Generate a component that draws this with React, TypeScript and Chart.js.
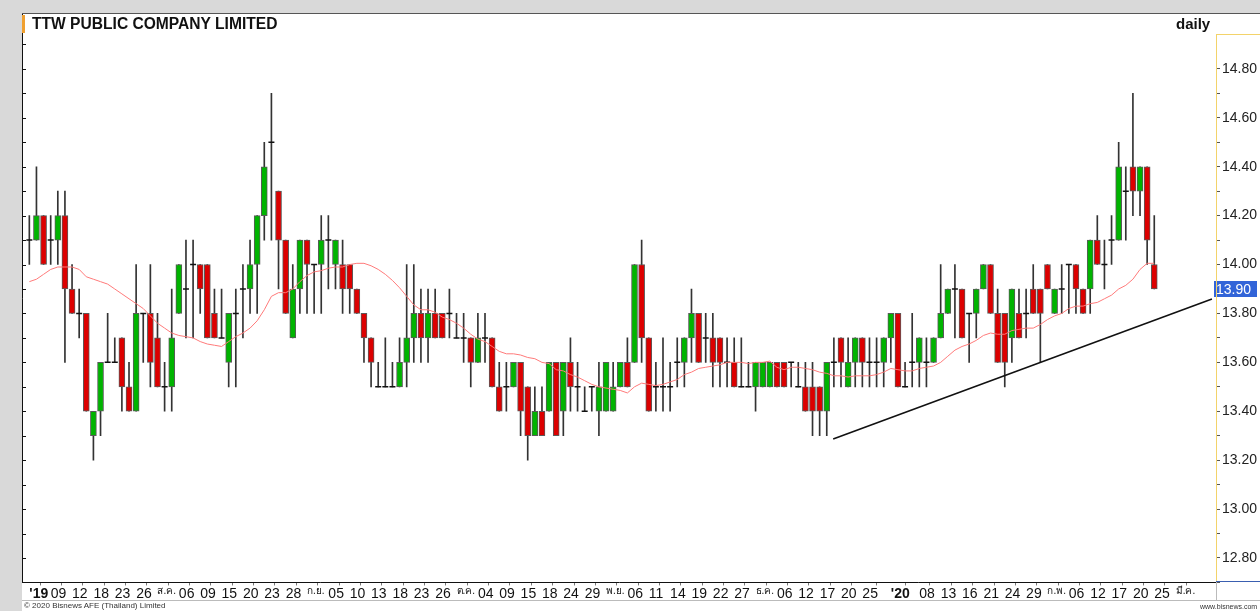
import React, { useEffect, useRef } from "react";
import { Chart, registerables } from "chart.js";

Chart.register(...registerables);

// ---- data ----
const opens = [
  14.1, 14.1, 14.2, 14.1, 14.1, 14.2, 13.9, 13.8, 13.8, 13.3,
  13.4, 13.6, 13.6, 13.7, 13.5, 13.4, 13.8, 13.8, 13.7, 13.5,
  13.5, 13.8, 13.9, 14.0, 14.0, 14.0, 13.8, 13.7, 13.6, 13.8,
  13.9, 13.9, 14.0, 14.2, 14.5, 14.3, 14.1, 13.7, 13.9, 14.1,
  14.0, 14.0, 14.1, 14.0, 14.0, 14.0, 13.9, 13.8, 13.7, 13.5,
  13.5, 13.5, 13.5, 13.6, 13.7, 13.8, 13.7, 13.8, 13.8, 13.8,
  13.7, 13.7, 13.7, 13.6, 13.7, 13.7, 13.5, 13.5, 13.5, 13.6,
  13.5, 13.3, 13.4, 13.4, 13.6, 13.4, 13.6, 13.5, 13.4, 13.5,
  13.4, 13.4, 13.4, 13.5, 13.6, 13.6, 14.0, 13.7, 13.5, 13.5,
  13.5, 13.6, 13.6, 13.7, 13.8, 13.7, 13.7, 13.7, 13.6, 13.6,
  13.5, 13.5, 13.5, 13.5, 13.5, 13.6, 13.6, 13.6, 13.5, 13.5,
  13.5, 13.5, 13.4, 13.6, 13.7, 13.5, 13.6, 13.7, 13.6, 13.6,
  13.6, 13.7, 13.8, 13.5, 13.6, 13.6, 13.6, 13.6, 13.7, 13.8,
  13.9, 13.9, 13.8, 13.8, 13.9, 14.0, 13.8, 13.8, 13.7, 13.8,
  13.8, 13.9, 13.9, 14.0, 13.8, 13.9, 14.0, 14.0, 13.9, 13.9,
  14.1, 14.0, 14.1, 14.1, 14.3, 14.4, 14.3, 14.4, 14.0,
];
const highs = [
  14.2, 14.4, 14.2, 14.2, 14.3, 14.3, 14.0, 13.9, 13.8, 13.4,
  13.6, 13.8, 13.7, 13.7, 13.6, 14.0, 13.8, 14.0, 13.8, 13.6,
  13.9, 14.0, 14.1, 14.1, 14.0, 14.0, 13.9, 13.9, 13.8, 13.9,
  14.0, 14.1, 14.2, 14.5, 14.7, 14.3, 14.1, 14.0, 14.1, 14.1,
  14.0, 14.2, 14.2, 14.1, 14.1, 14.0, 13.9, 13.8, 13.7, 13.6,
  13.7, 13.6, 13.7, 14.0, 14.0, 13.9, 13.9, 13.9, 13.8, 13.9,
  13.8, 13.8, 13.7, 13.8, 13.8, 13.7, 13.6, 13.6, 13.6, 13.6,
  13.5, 13.5, 13.5, 13.6, 13.6, 13.6, 13.7, 13.6, 13.5, 13.5,
  13.6, 13.6, 13.6, 13.6, 13.7, 14.0, 14.1, 13.7, 13.6, 13.7,
  13.6, 13.7, 13.7, 13.9, 13.8, 13.8, 13.8, 13.7, 13.7, 13.7,
  13.7, 13.6, 13.6, 13.6, 13.6, 13.6, 13.6, 13.6, 13.6, 13.6,
  13.6, 13.5, 13.6, 13.7, 13.7, 13.7, 13.7, 13.7, 13.7, 13.7,
  13.7, 13.8, 13.8, 13.6, 13.8, 13.7, 13.7, 13.7, 14.0, 13.9,
  14.0, 13.9, 13.8, 13.9, 14.0, 14.0, 13.9, 13.8, 13.9, 13.9,
  13.9, 14.0, 13.9, 14.0, 13.9, 14.0, 14.0, 14.0, 13.9, 14.1,
  14.2, 14.1, 14.2, 14.5, 14.4, 14.7, 14.4, 14.4, 14.2,
];
const lows = [
  14.0, 14.1, 14.0, 14.0, 14.0, 13.6, 13.8, 13.7, 13.4, 13.2,
  13.3, 13.6, 13.6, 13.4, 13.4, 13.4, 13.6, 13.5, 13.5, 13.4,
  13.4, 13.8, 13.7, 13.7, 13.8, 13.7, 13.7, 13.7, 13.5, 13.5,
  13.7, 13.8, 13.8, 14.1, 14.1, 13.9, 13.8, 13.7, 13.8, 13.8,
  13.8, 13.8, 13.9, 13.9, 13.8, 13.8, 13.8, 13.6, 13.5, 13.5,
  13.5, 13.5, 13.5, 13.5, 13.6, 13.6, 13.6, 13.7, 13.7, 13.7,
  13.7, 13.6, 13.5, 13.6, 13.6, 13.5, 13.4, 13.4, 13.5, 13.3,
  13.2, 13.3, 13.3, 13.4, 13.3, 13.3, 13.4, 13.4, 13.4, 13.4,
  13.3, 13.4, 13.4, 13.5, 13.5, 13.6, 13.6, 13.4, 13.4, 13.4,
  13.4, 13.5, 13.5, 13.6, 13.6, 13.6, 13.5, 13.5, 13.5, 13.5,
  13.5, 13.5, 13.4, 13.5, 13.5, 13.5, 13.5, 13.5, 13.5, 13.4,
  13.3, 13.3, 13.3, 13.5, 13.5, 13.5, 13.5, 13.5, 13.5, 13.5,
  13.5, 13.6, 13.5, 13.5, 13.5, 13.5, 13.5, 13.6, 13.7, 13.8,
  13.7, 13.7, 13.6, 13.7, 13.9, 13.8, 13.6, 13.5, 13.6, 13.7,
  13.7, 13.8, 13.6, 13.9, 13.8, 13.8, 13.8, 13.8, 13.8, 13.8,
  14.0, 13.9, 14.0, 14.1, 14.1, 14.2, 14.2, 14.0, 13.9,
];
const closes = [
  14.1, 14.2, 14.0, 14.1, 14.2, 13.9, 13.8, 13.8, 13.4, 13.4,
  13.6, 13.6, 13.6, 13.5, 13.4, 13.8, 13.8, 13.6, 13.5, 13.5,
  13.7, 14.0, 13.9, 14.0, 13.9, 13.7, 13.7, 13.7, 13.8, 13.8,
  13.9, 14.0, 14.2, 14.4, 14.5, 14.1, 13.8, 13.9, 14.1, 14.0,
  14.0, 14.1, 14.1, 14.1, 13.9, 13.9, 13.8, 13.7, 13.6, 13.5,
  13.5, 13.5, 13.6, 13.7, 13.8, 13.7, 13.8, 13.7, 13.7, 13.8,
  13.7, 13.7, 13.6, 13.7, 13.7, 13.5, 13.4, 13.5, 13.6, 13.4,
  13.3, 13.4, 13.3, 13.6, 13.3, 13.6, 13.5, 13.5, 13.4, 13.5,
  13.5, 13.6, 13.5, 13.6, 13.5, 14.0, 13.7, 13.4, 13.5, 13.5,
  13.5, 13.6, 13.7, 13.8, 13.6, 13.7, 13.6, 13.6, 13.6, 13.5,
  13.5, 13.5, 13.6, 13.6, 13.6, 13.5, 13.5, 13.6, 13.5, 13.4,
  13.4, 13.4, 13.6, 13.6, 13.6, 13.6, 13.7, 13.6, 13.6, 13.6,
  13.7, 13.8, 13.5, 13.5, 13.6, 13.7, 13.6, 13.7, 13.8, 13.9,
  13.9, 13.7, 13.8, 13.9, 14.0, 13.8, 13.6, 13.6, 13.9, 13.7,
  13.8, 13.8, 13.8, 13.9, 13.9, 13.9, 14.0, 13.9, 13.8, 14.1,
  14.0, 14.0, 14.1, 14.4, 14.3, 14.3, 14.4, 14.1, 13.9,
];
// MA(20) values read at the first candles (earlier closes are off-chart)
const maLead = [
  13.93, 13.94, 13.96, 13.98, 13.99, 13.99, 13.99, 13.98, 13.95, 13.94,
  13.93, 13.92, 13.9, 13.88, 13.86, 13.84, 13.82, 13.79, 13.76,
];
const maPeriod = 20;

// date axis: candle index -> label
const xTickIdx = [
  0, 3, 6, 9, 12, 15, 18, 21, 24, 27, 30, 33, 36, 39, 42, 45, 48, 51, 54, 57,
  60, 63, 66, 69, 72, 75, 78, 81, 84, 87, 90, 93, 96, 99, 102, 105, 108, 111,
  114, 117, 121, 125, 128, 131, 134, 137, 140, 143, 146, 149, 152, 155, 158, 161,
];
const xTickLabels = [
  "'19", "09", "12", "18", "23", "26", "ส.ค.", "06", "09", "15", "20", "23", "28",
  "ก.ย.", "05", "10", "13", "18", "23", "26", "ต.ค.", "04", "09", "15", "18", "24",
  "29", "พ.ย.", "06", "11", "14", "19", "22", "27", "ธ.ค.", "06", "12", "17", "20",
  "25", "'20", "08", "13", "16", "21", "24", "29", "ก.พ.", "06", "12", "17", "20",
  "25", "มี.ค.",
];
// support trend line (candle index, price)
const trendX = [112.9, 166.1];
const trendY = [13.287, 13.859];

const yMin = 12.7;
const yMax = 15.0;
const xMin = -1.03;
const xMax = 166.67;

const FONT = "'Liberation Sans', Arial, sans-serif";
const NARROW = "'Liberation Sans Narrow', 'Arial Narrow'";

function hasFont(name: string): boolean {
  const c = document.createElement("canvas").getContext("2d");
  if (!c) return false;
  c.font = "40px monospace";
  const a = c.measureText("0123456789 abcdef").width;
  c.font = `40px ${name}, monospace`;
  const b = c.measureText("0123456789 abcdef").width;
  return Math.abs(a - b) > 1;
}

export default function App() {
  const ref = useRef<HTMLCanvasElement | null>(null);

  useEffect(() => {
    const canvas = ref.current;
    if (!canvas) return;
    const narrow = hasFont(NARROW);
    const xFamily = narrow ? NARROW + ", " + FONT : FONT;
    const xSize = narrow ? 15 : 14;

    const idx = closes.map((_, i) => i);
    const wicks = idx.map((i) => ({ x: i, y: [lows[i], highs[i]] }));
    const up = idx.filter((i) => closes[i] > opens[i]).map((i) => ({ x: i, y: [opens[i], closes[i]] }));
    const down = idx.filter((i) => closes[i] < opens[i]).map((i) => ({ x: i, y: [closes[i], opens[i]] }));
    const doji = idx.filter((i) => closes[i] === opens[i]).map((i) => ({ x: i, y: closes[i] }));
    const ma = idx.map((i) => {
      if (i < maLead.length) return { x: i, y: maLead[i] };
      let s = 0;
      for (let k = i - maPeriod + 1; k <= i; k++) s += closes[k];
      return { x: i, y: s / maPeriod };
    });
    const trend = trendX.map((x, k) => ({ x, y: trendY[k] }));

    const framePlugin = {
      id: "frame",
      afterDraw(chart: any) {
        const { ctx, chartArea, scales } = chart;
        const y = scales.y;
        ctx.save();
        ctx.strokeStyle = "#111";
        ctx.lineWidth = 1;
        ctx.beginPath();
        ctx.moveTo(22.5, 14);
        ctx.lineTo(22.5, chartArea.bottom);
        for (let k = Math.ceil(yMin * 10); k <= Math.floor(yMax * 10); k++) {
          const py = Math.round(y.getPixelForValue(k / 10)) + 0.5;
          if (py < 36) continue;
          ctx.moveTo(22, py);
          ctx.lineTo(26, py);
        }
        ctx.stroke();
        const last = closes[closes.length - 1];
        const py = Math.round(y.getPixelForValue(last));
        ctx.fillStyle = "#3264d8";
        ctx.fillRect(1214, py - 8, 43, 16);
        ctx.fillStyle = "#ffffff";
        ctx.font = "14px " + FONT;
        ctx.textBaseline = "middle";
        ctx.textAlign = "left";
        ctx.fillText(last.toFixed(2), 1216, py + 1);
        ctx.restore();
      },
    };

    const chart = new Chart(canvas, {
      type: "bar",
      data: {
        datasets: [
          {
            type: "line",
            data: trend,
            borderColor: "#111111",
            borderWidth: 1.6,
            pointRadius: 0,
            order: 0,
          } as any,
          {
            type: "line",
            data: ma,
            borderColor: "#ff7a7a",
            borderWidth: 1,
            pointRadius: 0,
            tension: 0,
            order: 1,
          } as any,
          {
            type: "scatter",
            data: doji,
            pointStyle: "line",
            radius: 3,
            borderColor: "#111111",
            borderWidth: 1.5,
            order: 2,
          } as any,
          {
            type: "bar",
            data: up,
            backgroundColor: "#00b400",
            borderColor: "#5a5a5a",
            borderWidth: 1,
            borderSkipped: false,
            barThickness: 6,
            grouped: false,
            order: 3,
          } as any,
          {
            type: "bar",
            data: down,
            backgroundColor: "#dc0000",
            borderColor: "#5a5a5a",
            borderWidth: 1,
            borderSkipped: false,
            barThickness: 6,
            grouped: false,
            order: 3,
          } as any,
          {
            type: "bar",
            data: wicks,
            backgroundColor: "#333333",
            borderWidth: 0,
            barThickness: 1,
            grouped: false,
            order: 4,
          } as any,
        ],
      },
      options: {
        responsive: false,
        animation: false,
        devicePixelRatio: 1,
        layout: { padding: { left: 22, top: 20, right: 0, bottom: 0 } },
        plugins: { legend: { display: false }, tooltip: { enabled: false }, title: { display: false } },
        events: [],
        scales: {
          x: {
            type: "linear",
            min: xMin,
            max: xMax,
            offset: false,
            afterBuildTicks: (scale: any) => {
              scale.ticks = xTickIdx.map((v) => ({ value: v }));
            },
            afterFit: (scale: any) => {
              scale.height = 611 - 582.45;
              scale.paddingLeft = 0;
              scale.paddingRight = 0;
            },
            grid: { drawOnChartArea: false, drawTicks: true, tickLength: 3, color: "#777" },
            border: { display: true, color: "#111", width: 1 },
            ticks: {
              autoSkip: false,
              maxRotation: 0,
              minRotation: 0,
              align: "start",
              padding: 0,
              color: "#111",
              callback: (_v: any, i: number) => xTickLabels[i],
              font: (c: any) => {
                const lab = xTickLabels[c.index] || "";
                if (lab.startsWith("'")) return { family: xFamily, size: xSize, weight: "bold" };
                if (/[\u0E00-\u0E7F]/.test(lab)) return { family: FONT, size: 10 };
                return { family: xFamily, size: xSize };
              },
            },
          },
          y: {
            type: "linear",
            position: "right",
            min: yMin,
            max: yMax,
            beginAtZero: false,
            afterFit: (scale: any) => {
              scale.width = 44;
            },
            grid: {
              drawOnChartArea: false,
              drawTicks: true,
              tickLength: 4,
              color: (c: any) => (c.tick && c.tick.value > 14.85 ? "rgba(0,0,0,0)" : "#555"),
            },
            border: { display: false },
            ticks: {
              stepSize: 0.1,
              autoSkip: false,
              padding: 2,
              color: "#222",
              font: { family: FONT, size: 14 },
              callback: (v: any) => {
                const k = Math.round(Number(v) * 10);
                if (k % 2 !== 0 || k < 128 || k > 148) return "";
                return (k / 10).toFixed(2);
              },
            },
          },
        },
      } as any,
      plugins: [framePlugin],
    });
    return () => chart.destroy();
  }, []);

  return (
    <div
      style={{
        position: "fixed",
        left: 0,
        top: 0,
        width: 1260,
        height: 611,
        background: "#ffffff",
        overflow: "hidden",
        fontFamily: FONT,
      }}
    >
      <div style={{ position: "absolute", left: 0, top: 0, width: 1260, height: 14, background: "#d9d9d9" }} />
      <div style={{ position: "absolute", left: 22, top: 13, width: 1238, height: 1, background: "#555" }} />
      <div style={{ position: "absolute", left: 0, top: 0, width: 22, height: 611, background: "#d9d9d9" }} />
      <canvas ref={ref} width={1260} height={611} style={{ position: "absolute", left: 0, top: 0 }} />
      <div style={{ position: "absolute", left: 22, top: 15, width: 3, height: 18, background: "#f0a030" }} />
      <div
        style={{
          position: "absolute",
          left: 32,
          top: 15,
          fontSize: 15.6,
          fontWeight: "bold",
          color: "#111",
          lineHeight: "18px",
          whiteSpace: "nowrap",
        }}
      >
        TTW PUBLIC COMPANY LIMITED
      </div>
      <div
        style={{
          position: "absolute",
          left: 1176,
          top: 15,
          fontSize: 15,
          fontWeight: "bold",
          color: "#111",
          lineHeight: "18px",
        }}
      >
        daily
      </div>
      <div style={{ position: "absolute", left: 1216, top: 34, width: 44, height: 1, background: "#f3d36a" }} />
      <div style={{ position: "absolute", left: 1216, top: 34, width: 1, height: 548, background: "#f3d36a" }} />
      <div style={{ position: "absolute", left: 1216, top: 581, width: 44, height: 1, background: "#3a5fb0" }} />
      <div style={{ position: "absolute", left: 22, top: 600, width: 1238, height: 1, background: "#bbbbbb" }} />
      <div style={{ position: "absolute", left: 1216, top: 582, width: 1, height: 18, background: "#bbbbbb" }} />
      <div
        style={{ position: "absolute", left: 24, top: 601, fontSize: 8, color: "#333", lineHeight: "10px", whiteSpace: "nowrap" }}
      >
        © 2020 Bisnews AFE (Thailand) Limited
      </div>
      <div
        style={{ position: "absolute", left: 1200, top: 602, fontSize: 7, color: "#333", lineHeight: "9px", whiteSpace: "nowrap" }}
      >
        www.bisnews.com
      </div>
    </div>
  );
}
